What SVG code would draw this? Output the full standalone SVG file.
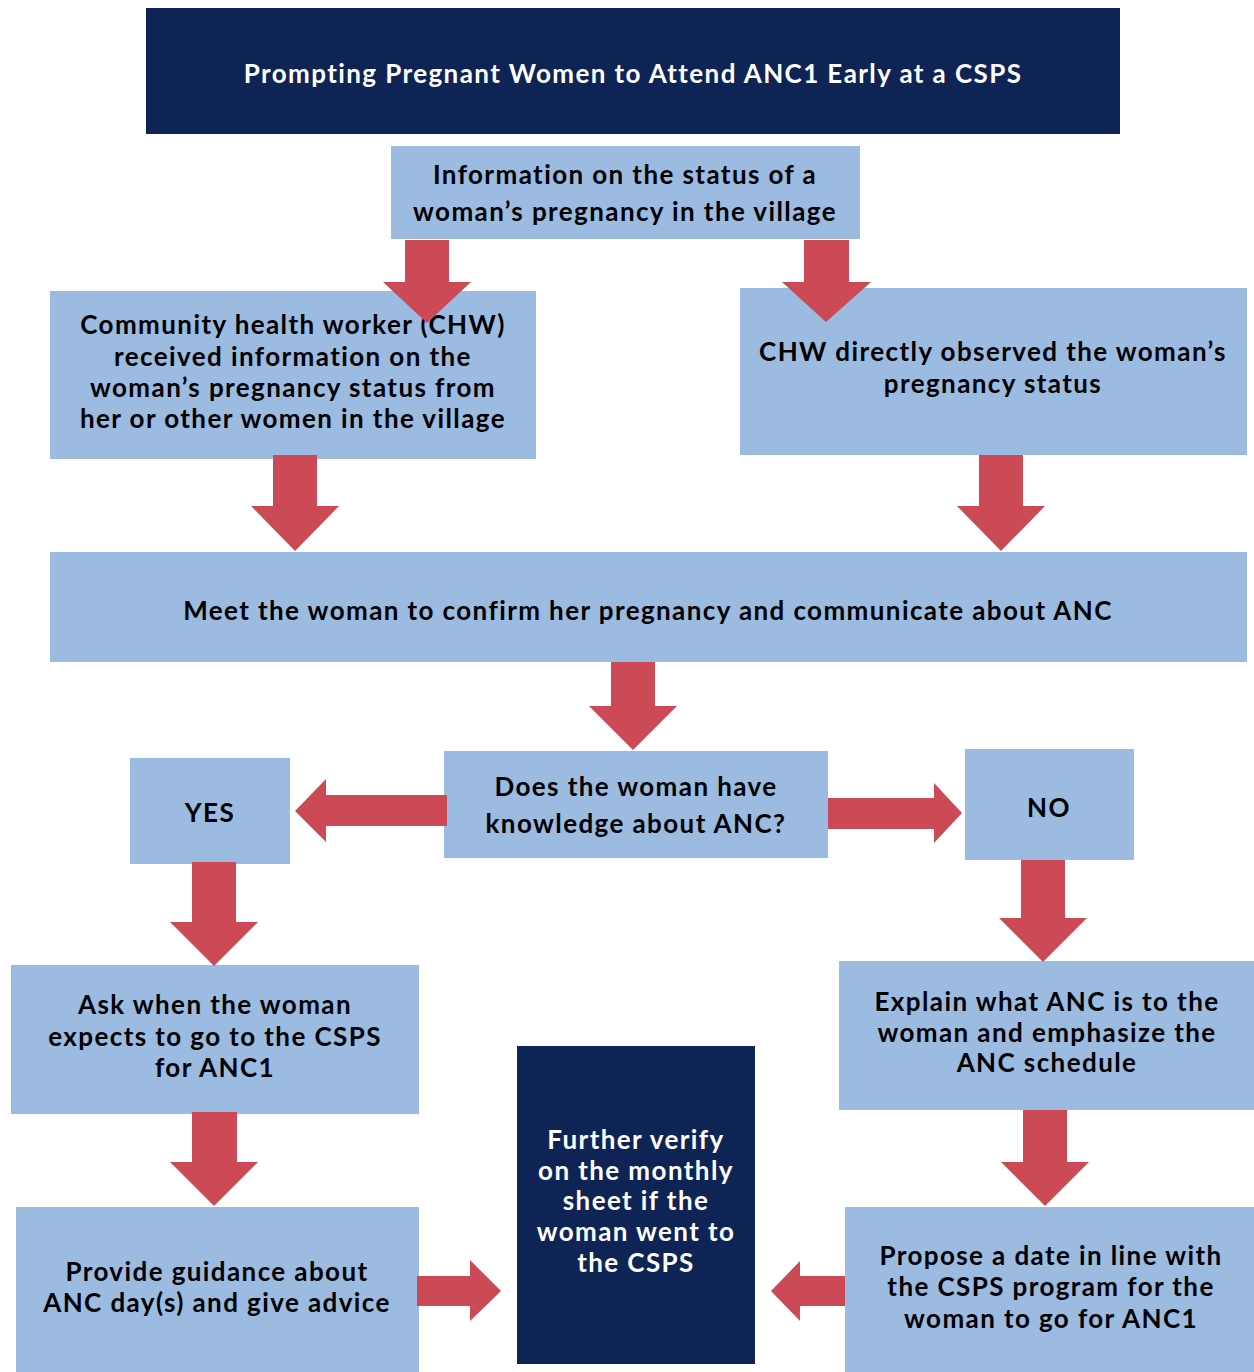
<svg xmlns="http://www.w3.org/2000/svg" width="1254" height="1372" viewBox="0 0 1254 1372">
<style>
.box{fill:#9BBBE1}
.dark{fill:#0E2455}
.arr{fill:#CB4A55}
text{font-family:Lato,"Open Sans","DejaVu Sans",sans-serif;font-weight:700;font-size:26px;letter-spacing:1.4px;fill:#000;text-anchor:middle}
.w{fill:#fff}
</style>
<rect width="1254" height="1372" fill="#fff"/>
<g id="title"><rect class="dark" x="146" y="8" width="974" height="126"/><text class="w" x="633" y="83">Prompting Pregnant Women to Attend ANC1 Early at a CSPS</text></g>
<g id="info"><rect class="box" x="391" y="146" width="469" height="93"/><text x="625" y="184">Information on the status of a</text><text x="625" y="221">woman’s pregnancy in the village</text></g>
<g id="chw-info"><rect class="box" x="50" y="291" width="486" height="168"/><text x="293" y="334">Community health worker (CHW)</text><text x="293" y="366">received information on the</text><text x="293" y="397">woman’s pregnancy status from</text><text x="293" y="428">her or other women in the village</text></g>
<g id="chw-observed"><rect class="box" x="740" y="288" width="507" height="167"/><text x="993" y="361">CHW directly observed the woman’s</text><text x="993" y="393">pregnancy status</text></g>
<g id="meet"><rect class="box" x="50" y="552" width="1197" height="110"/><text x="648" y="620">Meet the woman to confirm her pregnancy and communicate about ANC</text></g>
<g id="question"><rect class="box" x="444" y="751" width="384" height="107"/><text x="636" y="796">Does the woman have</text><text x="636" y="833">knowledge about ANC?</text></g>
<g id="yes"><rect class="box" x="130" y="758" width="160" height="106"/><text x="210" y="822">YES</text></g>
<g id="no"><rect class="box" x="965" y="749" width="169" height="111"/><text x="1049" y="817">NO</text></g>
<g id="ask"><rect class="box" x="11" y="965" width="408" height="149"/><text x="215" y="1014">Ask when the woman</text><text x="215" y="1046">expects to go to the CSPS</text><text x="215" y="1077">for ANC1</text></g>
<g id="explain"><rect class="box" x="839" y="961" width="415" height="149"/><text x="1047" y="1011">Explain what ANC is to the</text><text x="1047" y="1042">woman and emphasize the</text><text x="1047" y="1072">ANC schedule</text></g>
<g id="provide"><rect class="box" x="16" y="1207" width="403" height="165"/><text x="217" y="1281">Provide guidance about</text><text x="217" y="1312">ANC day(s) and give advice</text></g>
<g id="verify"><rect class="dark" x="517" y="1046" width="238" height="318"/><text class="w" x="636" y="1149">Further verify</text><text class="w" x="636" y="1180">on the monthly</text><text class="w" x="636" y="1210">sheet if the</text><text class="w" x="636" y="1241">woman went to</text><text class="w" x="636" y="1272">the CSPS</text></g>
<g id="propose"><rect class="box" x="845" y="1207" width="409" height="165"/><text x="1051" y="1265">Propose a date in line with</text><text x="1051" y="1296">the CSPS program for the</text><text x="1051" y="1328">woman to go for ANC1</text></g>
<g id="connectors">
<polygon class="arr" points="405,240 449,240 449,282 471,282 427,323 383,282 405,282"/>
<polygon class="arr" points="804,240 849,240 849,282 871,282 826,322 782,282 804,282"/>
<polygon class="arr" points="273,455 317,455 317,506 339,506 295,551 251,506 273,506"/>
<polygon class="arr" points="979,455 1023,455 1023,506 1045,506 1001,551 957,506 979,506"/>
<polygon class="arr" points="611,662 655,662 655,706 677,706 633,750 589,706 611,706"/>
<polygon class="arr" points="447,795 447,826 326,826 326,842 295,811 326,779 326,795"/>
<polygon class="arr" points="828,798 934,798 934,783 962,813 934,843 934,829 828,829"/>
<polygon class="arr" points="192,862 236,862 236,922 258,922 214,966 170,922 192,922"/>
<polygon class="arr" points="1021,860 1065,860 1065,918 1087,918 1043,962 999,918 1021,918"/>
<polygon class="arr" points="192,1112 237,1112 237,1162 258,1162 214,1206 170,1162 192,1162"/>
<polygon class="arr" points="1023,1110 1067,1110 1067,1162 1089,1162 1045,1206 1001,1162 1023,1162"/>
<polygon class="arr" points="417,1276 470,1276 470,1260 501,1291 470,1321 470,1306 417,1306"/>
<polygon class="arr" points="845,1276 800,1276 800,1261 771,1291 800,1321 800,1306 845,1306"/>
</g>
</svg>
